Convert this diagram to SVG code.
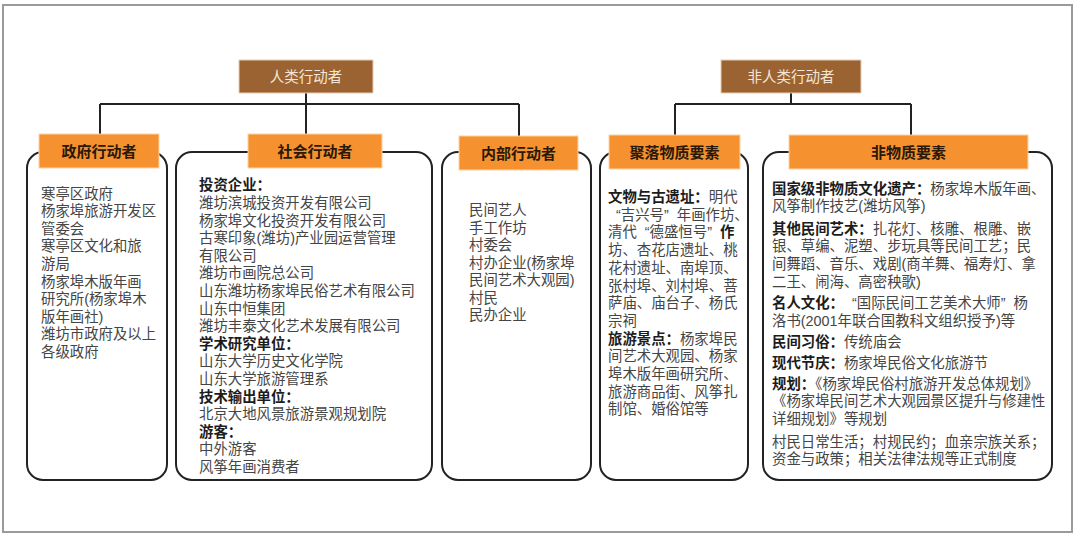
<svg xmlns="http://www.w3.org/2000/svg" width="1080" height="537" viewBox="0 0 1080 537">
<style>
.frame{fill:#ffffff;stroke:#9a9a9a;stroke-width:2}
.conn{fill:none;stroke:#222;stroke-width:2}
.body{fill:#ffffff;stroke:#222;stroke-width:2}
.ob{fill:#f5922f;stroke:#fbd2a8;stroke-width:1}
.br{fill:#9c6332;stroke:#e8cdb2;stroke-width:1}
.t{font-family:"Liberation Sans","Noto Sans CJK SC",sans-serif;font-size:14.4px;fill:#454545}
.b{font-weight:bold;fill:#1c1c1c}
.hd{font-family:"Noto Sans CJK SC","Noto Sans",sans-serif;font-size:15px;font-weight:bold;fill:#2a1808;text-anchor:middle}
.top{font-family:"Noto Sans CJK SC","Noto Sans",sans-serif;font-size:14.5px;fill:#f3e6d8;text-anchor:middle}
</style>
<rect class="frame" x="3" y="5" width="1069" height="527"/>

<g id="connectors">
<path class="conn" d="M306 93 V104 M100 104 H519 M100 104 V134 M306 104 V134 M519 104 V136"/>
<path class="conn" d="M791 93 V104 M675 104 H911 M675 104 V135 M911 104 V135"/>
</g>

<g id="human">
<rect class="br" x="239" y="60" width="134" height="33"/>
<text class="top" x="306" y="82">人类行动者</text>
</g>
<g id="nonhuman">
<rect class="br" x="721" y="60" width="140" height="33"/>
<text class="top" x="791" y="82">非人类行动者</text>
</g>

<g id="gov">
<rect class="body" x="27" y="152" width="140" height="328" rx="16"/>
<rect class="ob" x="39" y="134" width="120" height="34"/>
<text class="hd" x="99" y="156.5">政府行动者</text>
<text class="t" x="41" y="198.6">
<tspan x="41">寒亭区政府</tspan>
<tspan x="41" dy="17.6">杨家埠旅游开发区</tspan>
<tspan x="41" dy="17.6">管委会</tspan>
<tspan x="41" dy="17.6">寒亭区文化和旅</tspan>
<tspan x="41" dy="17.6">游局</tspan>
<tspan x="41" dy="17.6">杨家埠木版年画</tspan>
<tspan x="41" dy="17.6">研究所(杨家埠木</tspan>
<tspan x="41" dy="17.6">版年画社)</tspan>
<tspan x="41" dy="17.6">潍坊市政府及以上</tspan>
<tspan x="41" dy="17.6">各级政府</tspan>
</text>
</g>

<g id="social">
<rect class="body" x="176" y="152" width="256" height="328" rx="16"/>
<rect class="ob" x="248" y="134" width="134" height="34"/>
<text class="hd" x="315" y="156.5">社会行动者</text>
<text class="t" x="199" y="190.3">
<tspan x="199" class="b">投资企业：</tspan>
<tspan x="199" dy="17.6">潍坊滨城投资开发有限公司</tspan>
<tspan x="199" dy="17.6">杨家埠文化投资开发有限公司</tspan>
<tspan x="199" dy="17.6">古寒印象(潍坊)产业园运营管理</tspan>
<tspan x="199" dy="17.6">有限公司</tspan>
<tspan x="199" dy="17.6">潍坊市画院总公司</tspan>
<tspan x="199" dy="17.6">山东潍坊杨家埠民俗艺术有限公司</tspan>
<tspan x="199" dy="17.6">山东中恒集团</tspan>
<tspan x="199" dy="17.6">潍坊丰泰文化艺术发展有限公司</tspan>
<tspan x="199" dy="17.6" class="b">学术研究单位：</tspan>
<tspan x="199" dy="17.6">山东大学历史文化学院</tspan>
<tspan x="199" dy="17.6">山东大学旅游管理系</tspan>
<tspan x="199" dy="17.6" class="b">技术输出单位：</tspan>
<tspan x="199" dy="17.6">北京大地风景旅游景观规划院</tspan>
<tspan x="199" dy="17.6" class="b">游客：</tspan>
<tspan x="199" dy="17.6">中外游客</tspan>
<tspan x="199" dy="17.6">风筝年画消费者</tspan>
</text>
</g>

<g id="internal">
<rect class="body" x="442" y="152" width="149" height="328" rx="16"/>
<rect class="ob" x="459" y="136" width="119" height="34"/>
<text class="hd" x="518.5" y="158.5">内部行动者</text>
<text class="t" x="469" y="215.3">
<tspan x="469">民间艺人</tspan>
<tspan x="469" dy="17.5">手工作坊</tspan>
<tspan x="469" dy="17.5">村委会</tspan>
<tspan x="469" dy="17.5">村办企业(杨家埠</tspan>
<tspan x="469" dy="17.5">民间艺术大观园)</tspan>
<tspan x="469" dy="17.5">村民</tspan>
<tspan x="469" dy="17.5">民办企业</tspan>
</text>
</g>

<g id="settlement">
<rect class="body" x="600" y="152" width="148" height="328" rx="16"/>
<rect class="ob" x="609" y="135" width="131" height="34"/>
<text class="hd" x="674.5" y="157.5">聚落物质要素</text>
<text class="t" x="608" y="202">
<tspan x="608" class="b">文物与古遗址：</tspan><tspan>明代</tspan>
<tspan x="608" dx="8" dy="17.7">“吉兴号”</tspan><tspan dx="8">年画作坊、</tspan>
<tspan x="608" dy="17.7">清代</tspan><tspan dx="8">“德盛恒号”</tspan><tspan dx="8" class="b">作</tspan>
<tspan x="608" dy="17.7">坊、杏花店遗址、桃</tspan>
<tspan x="608" dy="17.7">花村遗址、南埠顶、</tspan>
<tspan x="608" dy="17.7">张村埠、刘村埠、菩</tspan>
<tspan x="608" dy="17.7">萨庙、庙台子、杨氏</tspan>
<tspan x="608" dy="17.7">宗祠</tspan>
<tspan x="608" dy="17.7" class="b">旅游景点：</tspan><tspan>杨家埠民</tspan>
<tspan x="608" dy="17.7">间艺术大观园、杨家</tspan>
<tspan x="608" dy="17.7">埠木版年画研究所、</tspan>
<tspan x="608" dy="17.7">旅游商品街、风筝扎</tspan>
<tspan x="608" dy="17.7">制馆、婚俗馆等</tspan>
</text>
</g>

<g id="intangible">
<rect class="body" x="763" y="152" width="289" height="328" rx="16"/>
<rect class="ob" x="789" y="135" width="239" height="34"/>
<text class="hd" x="908.5" y="157.5">非物质要素</text>
<text class="t">
<tspan x="772" y="193.6" class="b">国家级非物质文化遗产：</tspan><tspan>杨家埠木版年画、</tspan>
<tspan x="772" y="211.2">风筝制作技艺(潍坊风筝)</tspan>
<tspan x="772" y="233.8" class="b">其他民间艺术：</tspan><tspan>扎花灯、核雕、根雕、嵌</tspan>
<tspan x="772" y="251.4">银、草编、泥塑、步玩具等民间工艺；民</tspan>
<tspan x="772" y="269">间舞蹈、音乐、戏剧(商羊舞、福寿灯、拿</tspan>
<tspan x="772" y="286.6">二王、闹海、高密秧歌)</tspan>
<tspan x="772" y="308.3" class="b">名人文化：</tspan><tspan dx="8">“国际民间工艺美术大师”</tspan><tspan dx="8">杨</tspan>
<tspan x="772" y="325.9">洛书(2001年联合国教科文组织授予)等</tspan>
<tspan x="772" y="347.3" class="b">民间习俗：</tspan><tspan>传统庙会</tspan>
<tspan x="772" y="367.8" class="b">现代节庆：</tspan><tspan>杨家埠民俗文化旅游节</tspan>
<tspan x="772" y="388.8" class="b">规划：</tspan><tspan>《杨家埠民俗村旅游开发总体规划》</tspan>
<tspan x="772" y="406.4">《杨家埠民间艺术大观园景区提升与修建性</tspan>
<tspan x="772" y="424">详细规划》等规划</tspan>
<tspan x="772" y="446.8">村民日常生活；村规民约；血亲宗族关系；</tspan>
<tspan x="772" y="464.4">资金与政策；相关法律法规等正式制度</tspan>
</text>
</g>
</svg>
